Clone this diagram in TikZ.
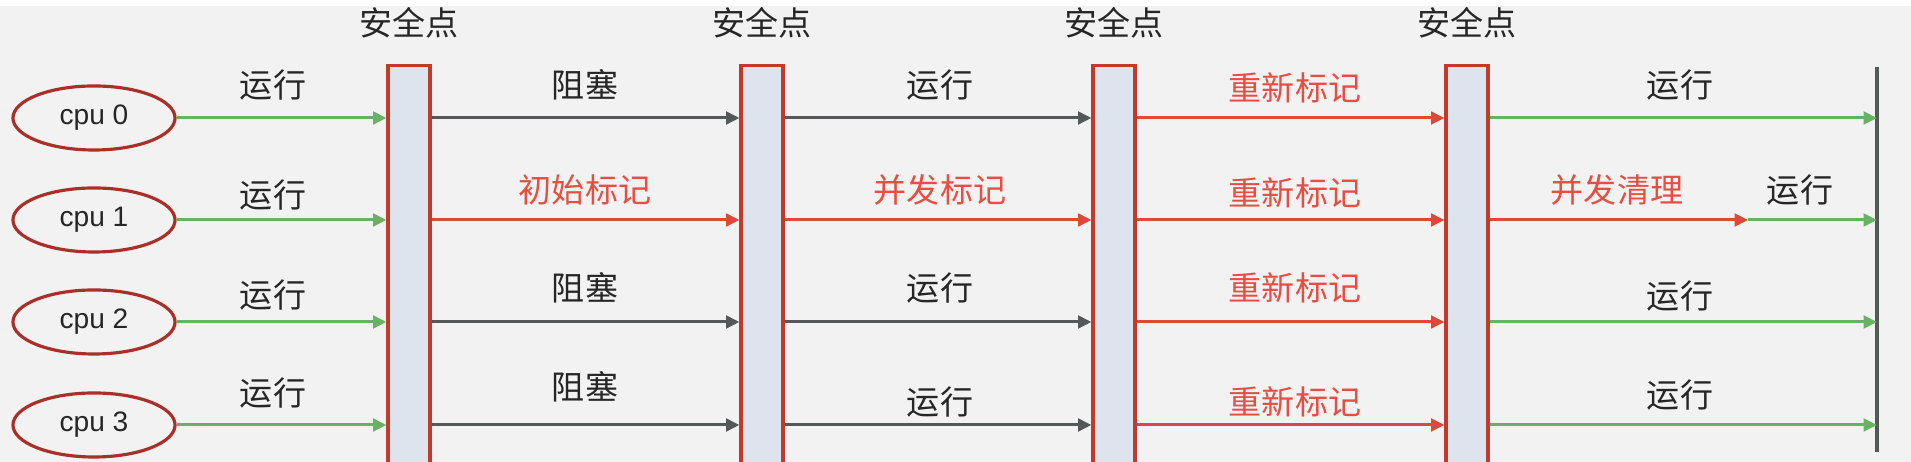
\documentclass[tikz,border=0pt]{standalone}
\usepackage{fontspec}
\setmainfont{Liberation Sans}
\newfontfamily\cjk{Noto Sans CJK SC}
\usetikzlibrary{shapes.geometric, arrows.meta, positioning}

\definecolor{bggray}{RGB}{242,242,242}
\definecolor{rungreen}{RGB}{104,178,100}
\definecolor{blockgray}{RGB}{85,88,88}
\definecolor{markred}{RGB}{222,72,56}
\definecolor{marktext}{RGB}{230,78,68}
\definecolor{barred}{RGB}{194,58,44}
\definecolor{barfill}{RGB}{222,228,238}
\definecolor{cpured}{RGB}{168,48,40}

\tikzset{
    cpu/.style={ellipse, draw=cpured, line width=0.9pt, minimum width=1.62cm, minimum height=0.64cm, inner sep=0pt, font=\fontsize{8}{9}\selectfont, text=black!85},
    bar/.style={rectangle, draw=barred, fill=barfill, line width=0.9pt, minimum width=0.42cm, minimum height=4cm, inner sep=0pt},
    txt/.style={inner sep=0pt, font=\cjk\fontsize{9.4}{11}\selectfont, text=black!85},
    redtxt/.style={txt, text=marktext},
    arr/.style={line width=0.85pt, -{Triangle[length=3.8pt,width=3.6pt]}},
    runarr/.style={arr, draw=rungreen},
    blockarr/.style={arr, draw=blockgray},
    markarr/.style={arr, draw=markred}
}

\begin{document}
\begin{tikzpicture}[x=0.01cm, y=-0.01cm]
        % Canvas
        \useasboundingbox (0,0) rectangle (1911,462);
        \fill[bggray] (0,6) rectangle (1911,462);

        % CPUs
        \foreach \i/\y in {0/118,1/220,2/322,3/425} {
            \node[cpu] (cpu\i) at (94,\y) {cpu \i};
        }

        % Safe points
        \foreach \i/\x in {1/409,2/762,3/1114,4/1467} {
            \node[bar] (sp\i) at (\x,266) {};
            \node[txt] (sptxt\i) at (\x,23) {安全点};
        }

        % End line
        \coordinate (endtop) at (1877,67);
        \coordinate (endbot) at (1877,452);
        \draw[blockgray, line width=0.9pt] (endtop) -- (endbot);
        \coordinate (split) at (1748,220);

        % Arrows
        \foreach \r in {0,1,2,3} {
            \draw[runarr] (cpu\r) -- (cpu\r -| sp1.west);
        }
        \draw[blockarr] (sp1.east |- cpu0) -- (sp2.west |- cpu0);
        \draw[markarr] (sp1.east |- cpu1) -- (sp2.west |- cpu1);
        \draw[blockarr] (sp1.east |- cpu2) -- (sp2.west |- cpu2);
        \draw[blockarr] (sp1.east |- cpu3) -- (sp2.west |- cpu3);

        \draw[blockarr] (sp2.east |- cpu0) -- (sp3.west |- cpu0);
        \draw[markarr] (sp2.east |- cpu1) -- (sp3.west |- cpu1);
        \draw[blockarr] (sp2.east |- cpu2) -- (sp3.west |- cpu2);
        \draw[blockarr] (sp2.east |- cpu3) -- (sp3.west |- cpu3);

        \foreach \r in {0,1,2,3} {
            \draw[markarr] (sp3.east |- cpu\r) -- (sp4.west |- cpu\r);
        }

        \draw[runarr] (sp4.east |- cpu0) -- (endtop |- cpu0);
        \draw[markarr] (sp4.east |- cpu1) -- (split);
        \draw[runarr] (split) -- (endtop |- cpu1);
        \draw[runarr] (sp4.east |- cpu2) -- (endtop |- cpu2);
        \draw[runarr] (sp4.east |- cpu3) -- (endtop |- cpu3);

        % Labels
        \foreach \x/\y/\s/\t [count=\n] in {
            273/85/txt/运行, 273/195/txt/运行, 273/295/txt/运行, 273/393/txt/运行,
            585/85/txt/阻塞, 585/190/redtxt/初始标记, 585/288/txt/阻塞, 585/387/txt/阻塞,
            940/85/txt/运行, 940/190/redtxt/并发标记, 940/288/txt/运行, 940/402/txt/运行,
            1295/88/redtxt/重新标记, 1295/193/redtxt/重新标记, 1295/288/redtxt/重新标记, 1295/402/redtxt/重新标记,
            1680/85/txt/运行, 1617/190/redtxt/并发清理, 1800/190/txt/运行, 1680/296/txt/运行, 1680/395/txt/运行} {
            \node[\s] (lab\n) at (\x,\y) {\t};
        }
    \end{tikzpicture}
\end{document}
